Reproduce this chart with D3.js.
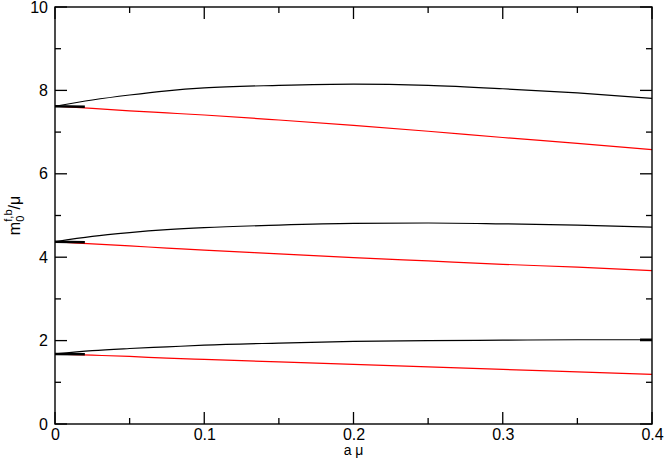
<!DOCTYPE html>
<html><head><meta charset="utf-8">
<script src="https://cdn.jsdelivr.net/npm/d3@7"></script>
<style>body{margin:0;background:#fff}svg{display:block}text{font-family:"Liberation Sans",Arial,sans-serif}</style>
</head><body><svg id="c" width="664" height="463"></svg>
<script>
const xs = [0, 0.025, 0.05, 0.075, 0.1, 0.15, 0.2, 0.25, 0.3, 0.35, 0.4];
const black1 = [7.62, 7.77, 7.89, 7.99, 8.06, 8.12, 8.15, 8.12, 8.04, 7.94, 7.81];
const red1   = [7.62, 7.57, 7.51, 7.46, 7.41, 7.29, 7.16, 7.02, 6.87, 6.73, 6.58];
const black2 = [4.37, 4.50, 4.59, 4.66, 4.71, 4.77, 4.81, 4.82, 4.80, 4.77, 4.72];
const red2   = [4.37, 4.32, 4.27, 4.22, 4.17, 4.08, 3.99, 3.91, 3.83, 3.76, 3.68];
const black3 = [1.68, 1.76, 1.81, 1.85, 1.89, 1.94, 1.98, 2.00, 2.01, 2.02, 2.02];
const red3   = [1.68, 1.65, 1.62, 1.58, 1.55, 1.49, 1.43, 1.37, 1.31, 1.25, 1.19];
const shortX = [0, 0.02];
const short1 = [7.62, 7.61];
const short2 = [4.37, 4.36];
const short3 = [1.68, 1.67];
const endX = [0.392, 0.4];
const end3 = [2.02, 2.02];
const xMajor = [0, 0.1, 0.2, 0.3, 0.4];
const xMinor = [0.05, 0.15, 0.25, 0.35];
const yMajor = [0, 2, 4, 6, 8, 10];
const yMinor = [1, 3, 5, 7, 9];

const svg = d3.select("#c");
const L = 55, R = 652, T = 7, B = 424;
const x = d3.scaleLinear().domain([0, 0.4]).range([L, R]);
const y = d3.scaleLinear().domain([0, 10]).range([B, T]);
const line = (X, Y) => d3.line().curve(d3.curveMonotoneX).x((d,i)=>x(X[i])).y(d=>y(d))(Y);

function draw(X, Y, color, w) {
  svg.append("path").attr("d", line(X, Y)).attr("fill","none").attr("stroke",color).attr("stroke-width",w);
}
draw(xs, red1, "#ff0000", 1.2); draw(xs, red2, "#ff0000", 1.2); draw(xs, red3, "#ff0000", 1.2);
draw(xs, black1, "#000", 1.2); draw(xs, black2, "#000", 1.2); draw(xs, black3, "#000", 1.2);
draw(shortX, short1, "#000", 2.5); draw(shortX, short2, "#000", 2.5); draw(shortX, short3, "#000", 2.5);
draw(endX, end3, "#000", 2.5);

// tick labels via d3 axes
const fmt = v => v === 0 ? "0" : d3.format(".1f")(v);
const gx = svg.append("g").attr("transform",`translate(0,${B})`)
  .call(d3.axisBottom(x).tickValues(xMajor).tickSize(0).tickFormat(fmt).tickPadding(5));
const gy = svg.append("g").attr("transform",`translate(${L},0)`)
  .call(d3.axisLeft(y).tickValues(yMajor).tickSize(0).tickFormat(d3.format("d")).tickPadding(7));
[gx, gy].forEach(g => {
  g.select(".domain").remove();
  g.selectAll(".tick line").remove();
  g.selectAll("text").attr("font-size",16).attr("font-family","Liberation Sans, Arial, sans-serif").attr("fill","#000");
});

// inward tick marks on all four sides, drawn as thin filled rects
const tw = 1.3;
const tg = svg.append("g").attr("fill","#000");
const xt = xMajor.map(v => ({v, len: 12})).concat(xMinor.map(v => ({v, len: 6})));
const yt = yMajor.map(v => ({v, len: 12})).concat(yMinor.map(v => ({v, len: 6})));
tg.selectAll(".xb").data(xt).join("rect").attr("x", d => x(d.v) - tw/2).attr("y", d => B - d.len).attr("width", tw).attr("height", d => d.len);
tg.selectAll(".xt").data(xt).join("rect").attr("x", d => x(d.v) - tw/2).attr("y", T).attr("width", tw).attr("height", d => d.len);
tg.selectAll(".yl").data(yt).join("rect").attr("x", L).attr("y", d => y(d.v) - tw/2).attr("width", d => d.len).attr("height", tw);
tg.selectAll(".yr").data(yt).join("rect").attr("x", d => R - d.len).attr("y", d => y(d.v) - tw/2).attr("width", d => d.len).attr("height", tw);

svg.append("rect").attr("x",L).attr("y",T).attr("width",R-L).attr("height",B-T)
  .attr("fill","none").attr("stroke","#000").attr("stroke-width",1.4);

// labels
svg.append("text").attr("x", x(0.2)).attr("y", 455).attr("text-anchor","middle").attr("font-size",14).text("a μ");
const yl = svg.append("text").attr("transform",`translate(20,${(T+B)/2}) rotate(-90)`).attr("text-anchor","middle").attr("font-size",16);
yl.append("tspan").text("m");
yl.append("tspan").attr("font-size",11).attr("dy",4).text("0");
yl.append("tspan").attr("font-size",11).attr("dy",-12).attr("dx",-6).text("f,b");
yl.append("tspan").attr("dy",8).text("/μ");
</script></body></html>
